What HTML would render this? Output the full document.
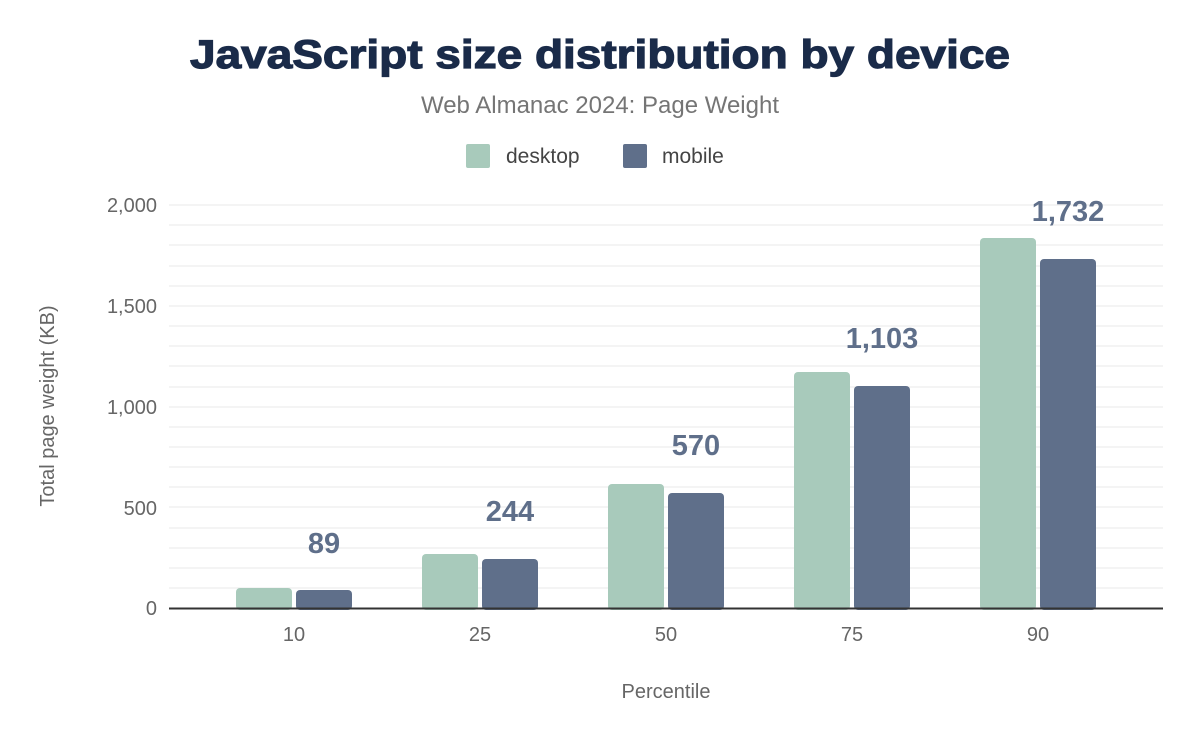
<!DOCTYPE html>
<html><head><style>
body{margin:0;background:#fff;width:1200px;height:742px;overflow:hidden}
svg text{font-family:"Liberation Sans",sans-serif}
</style></head><body>
<svg width="1200" height="742" xmlns="http://www.w3.org/2000/svg">
<text x="190" y="68" textLength="820" lengthAdjust="spacingAndGlyphs" font-size="40" font-weight="900" fill="#1a2b49" stroke="#1a2b49" stroke-width="1.2">JavaScript size distribution by device</text>
<text x="600" y="113" text-anchor="middle" font-size="24" fill="#757575">Web Almanac 2024: Page Weight</text>
<rect x="466" y="144" width="24" height="24" rx="2" fill="#a8cabb"/>
<text x="506" y="163" font-size="21" fill="#444">desktop</text>
<rect x="623" y="144" width="24" height="24" rx="2" fill="#5f6f8a"/>
<text x="662" y="163" font-size="21" fill="#444">mobile</text>
<g stroke="#f0f0f0" stroke-width="1.5">
<line x1="169" x2="1163" y1="205" y2="205"/><line x1="169" x2="1163" y1="225" y2="225"/><line x1="169" x2="1163" y1="245" y2="245"/><line x1="169" x2="1163" y1="266" y2="266"/><line x1="169" x2="1163" y1="286" y2="286"/><line x1="169" x2="1163" y1="306" y2="306"/><line x1="169" x2="1163" y1="326" y2="326"/><line x1="169" x2="1163" y1="346" y2="346"/><line x1="169" x2="1163" y1="366" y2="366"/><line x1="169" x2="1163" y1="387" y2="387"/><line x1="169" x2="1163" y1="407" y2="407"/><line x1="169" x2="1163" y1="427" y2="427"/><line x1="169" x2="1163" y1="447" y2="447"/><line x1="169" x2="1163" y1="467" y2="467"/><line x1="169" x2="1163" y1="487" y2="487"/><line x1="169" x2="1163" y1="507" y2="507"/><line x1="169" x2="1163" y1="528" y2="528"/><line x1="169" x2="1163" y1="548" y2="548"/><line x1="169" x2="1163" y1="568" y2="568"/><line x1="169" x2="1163" y1="588" y2="588"/>
</g>
<g font-size="20" fill="#666" text-anchor="end">
<text x="157" y="212">2,000</text><text x="157" y="313">1,500</text><text x="157" y="414">1,000</text><text x="157" y="515">500</text><text x="157" y="615">0</text>
</g>
<text transform="translate(54 406) rotate(-90)" text-anchor="middle" font-size="20" fill="#666">Total page weight (KB)</text>
<g fill="#a8cabb">
<rect x="236" y="588" width="56" height="22" rx="4"/><rect x="422" y="554" width="56" height="56" rx="4"/><rect x="608" y="484" width="56" height="126" rx="4"/><rect x="794" y="372" width="56" height="238" rx="4"/><rect x="980" y="238" width="56" height="372" rx="4"/>
</g>
<g fill="#5f6f8a">
<rect x="296" y="590" width="56" height="20" rx="4"/><rect x="482" y="559" width="56" height="51" rx="4"/><rect x="668" y="493" width="56" height="117" rx="4"/><rect x="854" y="386" width="56" height="224" rx="4"/><rect x="1040" y="259" width="56" height="351" rx="4"/>
</g>
<line x1="169" x2="1163" y1="608.5" y2="608.5" stroke="#333" stroke-width="2"/>
<g font-size="29" font-weight="bold" fill="#5f6f8a" text-anchor="middle">
<text x="324" y="553">89</text><text x="510" y="521">244</text><text x="696" y="455">570</text><text x="882" y="348">1,103</text><text x="1068" y="221">1,732</text>
</g>
<g font-size="20" fill="#666" text-anchor="middle">
<text x="294" y="641">10</text><text x="480" y="641">25</text><text x="666" y="641">50</text><text x="852" y="641">75</text><text x="1038" y="641">90</text>
</g>
<text x="666" y="698" text-anchor="middle" font-size="20" fill="#666">Percentile</text>
</svg>
</body></html>
